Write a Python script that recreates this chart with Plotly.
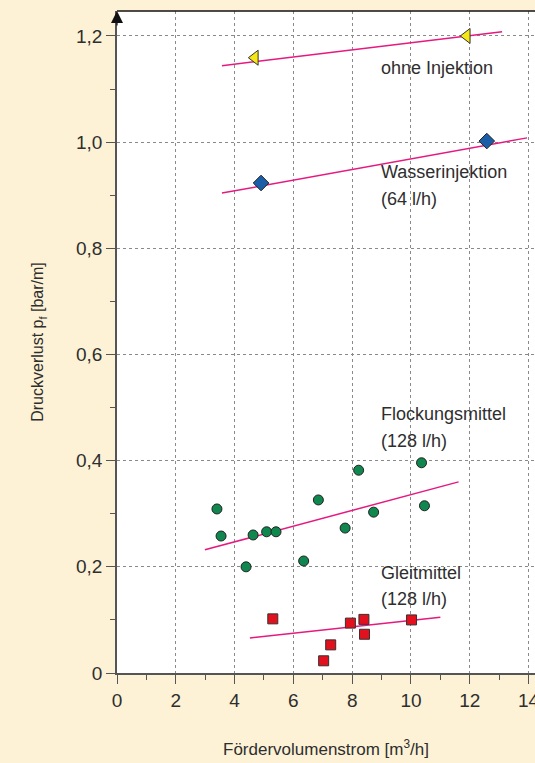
import plotly.graph_objects as go

# --- data ---
ohne_x = [4.69, 11.9]
ohne_y = [1.159, 1.200]
ohne_fit_x = [3.57, 13.1]
ohne_fit_y = [1.144, 1.208]

wasser_x = [4.9, 12.58]
wasser_y = [0.923, 1.002]
wasser_fit_x = [3.57, 13.95]
wasser_fit_y = [0.904, 1.008]

flock_x = [3.40, 3.54, 4.39, 4.63, 5.09, 5.41, 6.35, 6.85, 7.76, 8.22, 8.73, 10.36, 10.46]
flock_y = [0.309, 0.258, 0.200, 0.260, 0.266, 0.266, 0.211, 0.326, 0.273, 0.382, 0.303, 0.396, 0.315]
flock_fit_x = [2.99, 11.62]
flock_fit_y = [0.232, 0.360]

gleit_x = [5.30, 7.03, 7.27, 7.94, 8.40, 8.42, 10.02]
gleit_y = [0.102, 0.023, 0.053, 0.094, 0.101, 0.073, 0.100]
gleit_fit_x = [4.52, 11.0]
gleit_fit_y = [0.066, 0.105]

x_ticks = [0, 2, 4, 6, 8, 10, 12, 14]
y_ticks = [0, 0.2, 0.4, 0.6, 0.8, 1.0, 1.2]
y_ticktext = ["0", "0,2", "0,4", "0,6", "0,8", "1,0", "1,2"]

labels = [
    ("ohne Injektion", 8.9, 1.140),
    ("Wasserinjektion", 8.9, 0.944),
    ("(64 l/h)", 8.9, 0.893),
    ("Flockungsmittel", 8.9, 0.487),
    ("(128 l/h)", 8.9, 0.437),
    ("Gleitmittel", 8.9, 0.188),
    ("(128 l/h)", 8.9, 0.139),
]

PINK = "#e6197f"
FONT = "Liberation Sans"
TXT = "#2e2e2e"
CREAM = "#fdf2d6"

fig = go.Figure()
for fx, fy in [(ohne_fit_x, ohne_fit_y), (wasser_fit_x, wasser_fit_y),
               (flock_fit_x, flock_fit_y), (gleit_fit_x, gleit_fit_y)]:
    fig.add_trace(go.Scatter(x=fx, y=fy, mode="lines",
                             line=dict(color=PINK, width=1.5), hoverinfo="skip"))

fig.add_trace(go.Scatter(x=ohne_x, y=ohne_y, mode="markers",
                         marker=dict(symbol="triangle-left", size=13, color="#f5e616",
                                     line=dict(color="#333", width=1))))
fig.add_trace(go.Scatter(x=wasser_x, y=wasser_y, mode="markers",
                         marker=dict(symbol="diamond", size=12, color="#1a5ea8",
                                     line=dict(color="#222", width=1))))
fig.add_trace(go.Scatter(x=flock_x, y=flock_y, mode="markers",
                         marker=dict(symbol="circle", size=10, color="#10874f",
                                     line=dict(color="#222", width=1))))
fig.add_trace(go.Scatter(x=gleit_x, y=gleit_y, mode="markers",
                         marker=dict(symbol="square", size=10, color="#e3101e",
                                     line=dict(color="#333", width=1))))

for text, lx, ly in labels:
    fig.add_annotation(x=lx, y=ly, text=text, showarrow=False, xanchor="left",
                       yanchor="middle", font=dict(family=FONT, size=18, color=TXT))

# arrow on top of y axis
fig.add_annotation(x=0, y=1.247, ax=0, ay=16, xref="x", yref="y", axref="pixel", ayref="pixel",
                   showarrow=True, arrowhead=2, arrowsize=2, arrowwidth=1.2,
                   arrowcolor="#111", text="")

# top border
fig.add_shape(type="line", xref="paper", yref="paper", x0=0, x1=1, y0=1, y1=1,
              line=dict(color="#111", width=1.5))

fig.update_layout(
    width=535, height=763,
    margin=dict(l=117, r=0, t=11, b=90, autoexpand=False),
    paper_bgcolor=CREAM, plot_bgcolor="white",
    showlegend=False,
    font=dict(family=FONT, color=TXT),
    xaxis=dict(range=[0, 14.22], tickvals=x_ticks, ticktext=[str(v) for v in x_ticks],
               ticklabeloverflow="allow", automargin=False,
               showline=True, linecolor="#555", linewidth=1.5,
               ticks="outside", ticklen=9, tickwidth=1.2, tickcolor="#555",
               minor=dict(dtick=1, ticks="outside", ticklen=5, tickcolor="#555", tickwidth=1.2, showgrid=False),
               showgrid=True, gridcolor="#8a8a8a", griddash="3px,3px", gridwidth=1,
               zeroline=False, tickfont=dict(size=19, color=TXT),
               title=dict(text="Fördervolumenstrom [m<sup>3</sup>/h]", standoff=34,
                          font=dict(size=17, color=TXT))),
    yaxis=dict(range=[0, 1.247], tickvals=y_ticks, ticktext=y_ticktext,
               automargin=False,
               showline=True, linecolor="#555", linewidth=1.5,
               ticks="outside", ticklen=9, tickwidth=1.2, tickcolor="#555",
               minor=dict(dtick=0.1, ticks="outside", ticklen=5, tickcolor="#555", tickwidth=1.2, showgrid=False),
               showgrid=True, gridcolor="#8a8a8a", griddash="3px,3px", gridwidth=1,
               zeroline=False, tickfont=dict(size=19, color=TXT),
               title=dict(text="Druckverlust p<sub>f</sub> [bar/m]", standoff=28,
                          font=dict(size=16, color=TXT))),
)

fig.write_html("out.html", config={"displayModeBar": False},
               post_script="document.body.style.margin='0';")
